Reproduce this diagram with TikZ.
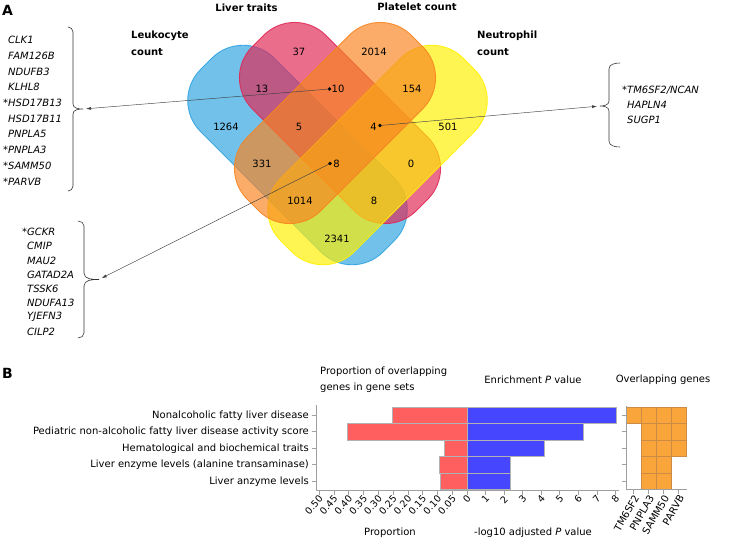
\documentclass[tikz,border=0pt]{standalone}
\usepackage{fontspec}
\setmainfont{DejaVu Sans}
\usepackage{tikz}
\usetikzlibrary{arrows.meta,positioning,calc}
\definecolor{leukoblue}{RGB}{47,163,224}
\definecolor{liverred}{RGB}{224,40,86}
\definecolor{plateorange}{RGB}{247,132,32}
\definecolor{neutroyellow}{RGB}{255,240,0}
\definecolor{propred}{RGB}{255,95,95}
\definecolor{pvalblue}{RGB}{70,70,255}
\definecolor{geneorange}{RGB}{250,165,60}
\definecolor{cellline}{RGB}{205,140,70}

\begin{document}
\begin{tikzpicture}[x=1pt, y=-1pt,
    every node/.style={font=\fontsize{10}{12}\selectfont, inner sep=0pt},
    vennset/.style={fill opacity=0.68, draw opacity=0.9, line width=0.9pt, rounded corners=44pt},
    setlab/.style={font=\fontsize{10}{17}\selectfont\bfseries, align=left, anchor=west},
    gene/.style={font=\fontsize{10}{12}\selectfont\itshape, anchor=west},
    dotpt/.style={circle, fill=black, minimum size=3.6pt},
    pointer/.style={-{Latex[length=5pt,width=3pt]}, line width=0.45pt, black!75, shorten >=3pt},
    bracket/.style={line width=0.6pt, black!80},
    rowlab/.style={anchor=east},
    axisline/.style={draw=gray!75, line width=0.6pt},
    ticklab/.style={anchor=east, rotate=48, font=\fontsize{9.5}{11}\selectfont},
    genetick/.style={anchor=east, rotate=60},
    barbox/.style={draw=gray!60, line width=0.4pt},
    cellbox/.style={draw=cellline, line width=0.4pt, fill=geneorange}]
    \useasboundingbox (0,0) rectangle (729,550);

    % --- A: four-set Venn diagram ---
    \node[font=\fontsize{14}{16}\selectfont\bfseries] (pA) at (7.5,10) {A};
    \begin{scope}[shift={(297.5,155)}, rotate=-45]
        \draw[vennset, fill=leukoblue, draw=leukoblue] (-129,-52) rectangle (129,52);
    \end{scope}
    \begin{scope}[shift={(340,123)}, rotate=-45]
        \draw[vennset, fill=liverred, draw=liverred] (-116,-52) rectangle (116,52);
    \end{scope}
    \begin{scope}[shift={(377.5,155)}, rotate=45]
        \draw[vennset, fill=neutroyellow, draw=neutroyellow] (-129,-52) rectangle (129,52);
    \end{scope}
    \begin{scope}[shift={(335,123)}, rotate=45]
        \draw[vennset, fill=plateorange, draw=plateorange] (-116,-52) rectangle (116,52);
    \end{scope}

    % set names
    \node[setlab] (leuko) at (131,43.5) {Leukocyte\\count};
    \node[setlab, anchor=center] (liver) at (246.5,8) {Liver traits};
    \node[setlab, anchor=center] (plate) at (417,7) {Platelet count};
    \node[setlab] (neutro) at (477,43.5) {Neutrophil\\count};

    % counts
    \node (c37) at (299,52) {37};
    \node (c2014) at (374,52) {2014};
    \node (c13) at (262,89) {13};
    \node (c10) at (338,89) {10};
    \node (c154) at (412,89) {154};
    \node (c1264) at (226,127) {1264};
    \node (c5) at (299,127) {5};
    \node (c4) at (373.5,127) {4};
    \node (c501) at (448,127) {501};
    \node (c331) at (262,164) {331};
    \node (c8a) at (336.5,164) {8};
    \node (c0) at (411,164) {0};
    \node (c1014) at (300,201) {1014};
    \node (c8b) at (374,201) {8};
    \node (c2341) at (337,239) {2341};
    \node[dotpt] (d10) at (329.5,89) {};
    \node[dotpt] (d4) at (380,125.5) {};
    \node[dotpt] (d8) at (330,163.5) {};

    % --- gene lists with brackets ---
    \foreach \g [count=\i from 0] in {CLK1,FAM126B,NDUFB3,KLHL8,\llap{*}HSD17B13,HSD17B11,PNPLA5,\llap{*}PNPLA3,\llap{*}SAMM50,\llap{*}PARVB}
        \node[gene] (ga\i) at (8,40+15.7*\i) {\g};
    \draw[bracket] (68,27) to[out=0,in=90] (73,32) -- (73,104) to[out=-90,in=180] (83,109)
        to[out=180,in=90] (73,114) -- (73,186) to[out=-90,in=0] (68,191);
    \coordinate (tipA) at (83,109);

    \foreach \g [count=\i from 0] in {\llap{*}GCKR,CMIP,MAU2,GATAD2A,TSSK6,NDUFA13,YJEFN3,CILP2}
        \node[gene] (gb\i) at (27,232+14.2*\i) {\g};
    \draw[bracket] (78,221) to[out=0,in=90] (84,226) -- (84,273) to[out=-90,in=180] (99,279.5)
        to[out=180,in=90] (84,286) -- (84,333) to[out=-90,in=0] (78,338);
    \coordinate (tipB) at (99,279.5);

    \foreach \g [count=\i from 0] in {\llap{*}TM6SF2/NCAN,HAPLN4,SUGP1}
        \node[gene] (gc\i) at (627,90+15*\i) {\g};
    \draw[bracket] (620,63) to[out=180,in=90] (609,69) -- (609,101) to[out=-90,in=0] (600,106)
        to[out=0,in=90] (609,111) -- (609,141) to[out=-90,in=180] (620,147);
    \coordinate (tipC) at (600,106);

    % Arrows
    \draw[pointer] (d10.center) -- (tipA);
    \draw[pointer] (d8.center) -- (tipB);
    \draw[pointer] (d4.center) -- (tipC);

    % --- B: enrichment bars ---
    \node[font=\fontsize{14}{16}\selectfont\bfseries] (pB) at (7.5,373) {B};
    \node[anchor=west, align=left, font=\fontsize{10}{16}\selectfont] (tprop) at (320,380) {Proportion of overlapping\\genes in gene sets};
    \node (tpval) at (533,380) {Enrichment \textit{P} value};
    \node (tgene) at (663,380) {Overlapping genes};

    \foreach \lab [count=\i from 0] in {Nonalcoholic fatty liver disease,Pediatric non-alcoholic fatty liver disease activity score,Hematological and biochemical traits,Liver enzyme levels (alanine transaminase),Liver anzyme levels}
        \node[rowlab] (row\i) at (309,415.25+16.5*\i) {\lab};

    % bars: proportion (left) and -log10 P (right)
    \foreach \xp/\xq [count=\i from 0] in {392.5/616,347/583.5,444/544,439/510,440.5/510} {
        \draw[barbox, fill=propred] (\xp,407+16.5*\i) rectangle (467,423.5+16.5*\i);
        \draw[barbox, fill=pvalblue] (467,407+16.5*\i) rectangle (\xq,423.5+16.5*\i);
    }

    % axes
    \draw[axisline] (316,405) -- (316,490) -- (619,490);
    \foreach \i in {0,...,4}
        \draw[axisline] (312,415.25+16.5*\i) -- (316,415.25+16.5*\i);
    \foreach \v/\t in {0/0,1/0.05,2/0.10,3/0.15,4/0.20,5/0.25,6/0.30,7/0.35,8/0.40,9/0.45,10/0.50} {
        \draw[axisline] (467-14.8*\v,490) -- (467-14.8*\v,495);
        \node[ticklab] (tp\v) at (469-14.8*\v,497) {\t};
    }
    \foreach \k in {1,...,8} {
        \draw[axisline] (467+18.55*\k,490) -- (467+18.55*\k,495);
        \node[ticklab] (tq\k) at (469+18.55*\k,497) {\k};
    }
    \node (xprop) at (390,533) {Proportion};
    \node (xpval) at (533,533) {-log10 adjusted \textit{P} value};

    % overlapping genes grid
    \foreach \c/\n in {0/0,1/4,2/4,3/2}
        \foreach \r in {0,...,\n}
            \draw[cellbox] (626+15*\c,407+16.5*\r) rectangle (641+15*\c,423.5+16.5*\r);
    \draw[axisline] (626,406) -- (626,489.5) -- (687,489.5);
    \foreach \i in {0,...,4}
        \draw[axisline] (622,415.25+16.5*\i) -- (626,415.25+16.5*\i);
    \foreach \g [count=\c from 0] in {TM6SF2,PNPLA3,SAMM50,PARVB} {
        \draw[axisline] (633.5+15*\c,489.5) -- (633.5+15*\c,494);
        \node[genetick] (gl\c) at (636.5+15*\c,496) {\g};
    }
\end{tikzpicture}
\end{document}
